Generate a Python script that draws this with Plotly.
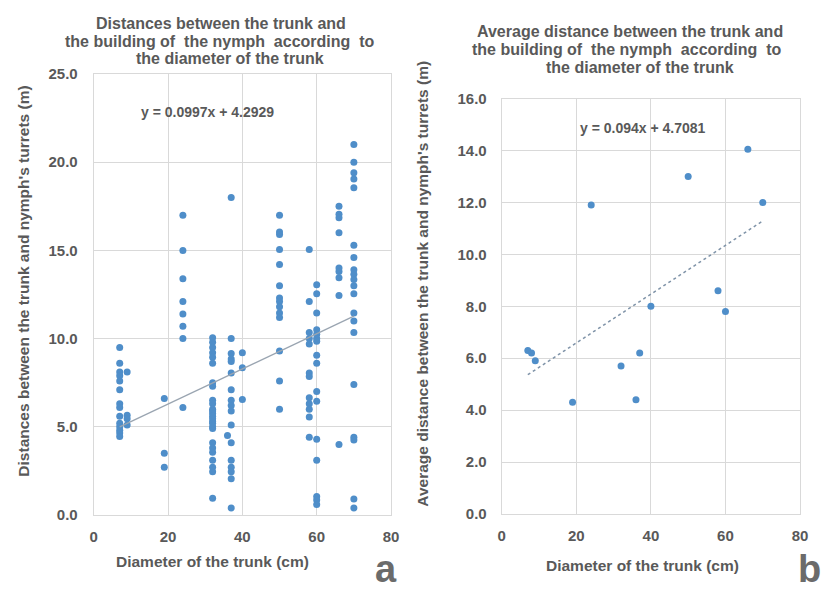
import plotly.graph_objects as go

# ---------------- data: panel a (individual trees) ----------------
d7_y = [9.5, 8.6, 8.1, 7.9, 7.6, 7.1, 6.3, 6.1, 5.6, 5.2, 5.0, 4.8, 4.65, 4.45]
d9_y = [8.1, 5.65, 5.45, 5.1]
d19_y = [6.6, 3.5, 2.7]
d24_y = [17.0, 15.0, 13.4, 12.1, 11.4, 10.7, 10.0, 6.1]
d32_y = [10.05, 9.8, 9.5, 9.2, 8.95, 8.6, 7.5, 7.3, 6.5, 6.3, 6.0, 5.9, 5.75, 5.6,
         5.45, 5.3, 5.2, 5.0, 4.9, 4.1, 3.8, 3.55, 3.1, 2.7, 2.45, 0.95]
d36_y = [4.5]
d37_y = [18.0, 10.0, 9.15, 8.85, 8.7, 8.05, 7.1, 6.5, 6.2, 5.9, 5.1, 4.1, 3.1, 2.7,
         2.45, 2.05, 0.4]
d40_y = [9.2, 8.35, 6.55]
d50_y = [17.0, 16.05, 15.9, 15.05, 14.2, 13.0, 12.3, 12.1, 11.8, 11.45, 11.2, 9.3,
         7.6, 6.0]
d58_y = [15.05, 12.1, 10.35, 10.0, 9.7, 8.05, 7.85, 6.65, 6.3, 6.0, 5.55, 4.4]
d60_y = [13.05, 12.55, 11.45, 10.5, 10.25, 10.0, 9.85, 9.05, 8.6, 7.0, 6.45, 4.3,
         3.1, 1.05, 0.85, 0.6]
d66_y = [17.5, 17.05, 16.85, 16.0, 14.0, 13.8, 13.45, 12.45, 4.0]
d70_y = [21.0, 20.0, 19.4, 19.05, 18.55, 15.3, 14.6, 13.9, 13.65, 13.35, 13.0,
         12.55, 11.45, 11.0, 10.35, 7.4, 4.4, 4.25, 0.9, 0.4]

left_diams = [7, 9, 19, 24, 32, 36, 37, 40, 50, 58, 60, 66, 70]
left_cols = [d7_y, d9_y, d19_y, d24_y, d32_y, d36_y, d37_y, d40_y, d50_y, d58_y,
             d60_y, d66_y, d70_y]
left_x = [d for d, col in zip(left_diams, left_cols) for _ in col]
left_y = [v for col in left_cols for v in col]

left_slope, left_icpt = 0.0997, 4.2929

# ---------------- data: panel b (averages) ----------------
right_x = [7, 8, 9, 19, 24, 32, 36, 37, 40, 50, 58, 60, 66, 70]
right_y = [6.3, 6.2, 5.9, 4.3, 11.9, 5.7, 4.4, 6.2, 8.0, 13.0, 8.6, 7.8, 14.05, 12.0]
right_slope, right_icpt = 0.094, 4.7081

trend_x = [7, 70]

# ---------------- styling ----------------
W, H = 832, 589
FONT = "Liberation Sans, Arial, sans-serif"
TXT = "#595959"
GRID = "#d9d9d9"
DOT = "#4f8ec9"


def px(x):
    return x / W


def py(y):
    return 1 - y / H


fig = go.Figure()
fig.add_trace(go.Scatter(x=left_x, y=left_y, mode="markers",
                         marker=dict(color=DOT, size=7), xaxis="x", yaxis="y",
                         showlegend=False))
fig.add_trace(go.Scatter(x=trend_x, y=[left_slope * v + left_icpt for v in trend_x],
                         mode="lines", line=dict(color="#9aa5b1", width=1.3),
                         xaxis="x", yaxis="y", showlegend=False))
fig.add_trace(go.Scatter(x=right_x, y=right_y, mode="markers",
                         marker=dict(color=DOT, size=7), xaxis="x2", yaxis="y2",
                         showlegend=False))
fig.add_trace(go.Scatter(x=trend_x, y=[right_slope * v + right_icpt for v in trend_x],
                         mode="lines", line=dict(color="#7f93a8", width=1.5, dash="dot"),
                         xaxis="x2", yaxis="y2", showlegend=False))

axis_common = dict(showgrid=True, gridcolor=GRID, gridwidth=1, showline=True,
                   linecolor=GRID, mirror=True, zeroline=False, ticks="",
                   tickfont=dict(family=FONT, size=15, color=TXT, weight="bold"))

fig.update_layout(
    width=W, height=H,
    margin=dict(l=0, r=0, t=0, b=0),
    paper_bgcolor="white", plot_bgcolor="white",
    xaxis=dict(domain=[px(91), px(392.7)], range=[0, 80], dtick=20,
               anchor="y", ticklabelstandoff=8, **axis_common),
    yaxis=dict(domain=[py(521), py(67)], range=[0, 25], dtick=5, tickformat=".1f",
               anchor="x", ticklabelstandoff=12, **axis_common),
    xaxis2=dict(domain=[px(505), px(807.7)], range=[0, 80], dtick=20,
                anchor="y2", ticklabelstandoff=8, **axis_common),
    yaxis2=dict(domain=[py(520), py(92.3)], range=[0, 16], dtick=2, tickformat=".1f",
                anchor="x2", ticklabelstandoff=11, **axis_common),
)


def txt(text, x, y, size, angle=0, color=TXT):
    fig.add_annotation(text=text, x=px(x), y=py(y), xref="paper", yref="paper",
                       xanchor="center", yanchor="middle", showarrow=False,
                       textangle=angle,
                       font=dict(family=FONT, size=size, color=color, weight="bold"))


# titles
txt("Distances between the trunk and", 220, 15, 16)
txt("the building of  the nymph  according  to", 219, 33, 16)
txt("the diameter of the trunk", 229, 50.5, 16)
txt("Average distance between the trunk and", 635, 23.5, 16)
txt("the building of  the nymph  according  to", 632.5, 41.5, 16)
txt("the diameter of the trunk", 645, 60, 16)

# axis titles
txt("Diameter of the trunk (cm)", 212, 569, 15.5)
txt("Diameter of the trunk (cm)", 648, 573, 15.5)
txt("Distances between the trunk and nymph's turrets (m)", 20, 280, 15.5, angle=-90)
txt("Average distance between the trunk and nymph's turrets (m)", 425, 283, 15.5, angle=-90)

# equations
txt("y = 0.0997x + 4.2929", 206.5, 106, 14)
txt("y = 0.094x + 4.7081", 648, 123, 14)

# panel letters
txt("a", 388, 577, 38, color="#6b6b6b")
txt("b", 817, 577, 38, color="#6b6b6b")

fig.write_html("out.html")
